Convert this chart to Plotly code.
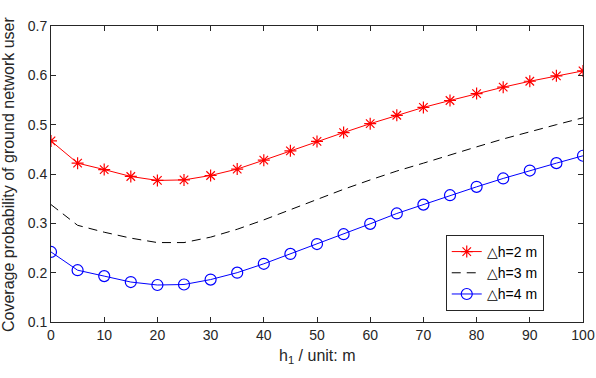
import plotly.graph_objects as go

h1 = [0, 5, 10, 15, 20, 25, 30, 35, 40, 45, 50, 55, 60, 65, 70, 75, 80, 85, 90, 95, 100]
cov_dh2 = [0.467, 0.422, 0.409, 0.395, 0.387, 0.388, 0.397, 0.410, 0.428, 0.447, 0.466,
           0.484, 0.502, 0.519, 0.535, 0.549, 0.563, 0.576, 0.588, 0.599, 0.609]
cov_dh3 = [0.338, 0.296, 0.282, 0.270, 0.261, 0.261, 0.272, 0.288, 0.307, 0.328, 0.349,
           0.369, 0.388, 0.406, 0.422, 0.439, 0.455, 0.471, 0.486, 0.500, 0.514]
cov_dh4 = [0.242, 0.205, 0.193, 0.181, 0.175, 0.176, 0.186, 0.200, 0.218, 0.238, 0.258,
           0.278, 0.299, 0.320, 0.338, 0.357, 0.374, 0.391, 0.407, 0.422, 0.437]
names = ["\u25b3h=2 m", "\u25b3h=3 m", "\u25b3h=4 m"]
x_title = "h<sub>1</sub> / unit: m"
y_title = "Coverage probability of ground network user"
x_ticks = list(range(0, 101, 10))
y_ticks = [0.1, 0.2, 0.3, 0.4, 0.5, 0.6, 0.7]

axcol = "#262626"
font = "Liberation Sans, Arial, Helvetica, sans-serif"

fig = go.Figure()
fig.add_trace(go.Scatter(
    x=h1, y=cov_dh2, name=names[0], mode="lines+markers",
    line=dict(color="#FF0000", width=1),
    marker=dict(symbol="asterisk-open", size=10, color="#FF0000",
                line=dict(color="#FF0000", width=1.2))))
fig.add_trace(go.Scatter(
    x=h1, y=cov_dh3, name=names[1], mode="lines",
    line=dict(color="#000000", width=1, dash="9px,6px")))
fig.add_trace(go.Scatter(
    x=h1, y=cov_dh4, name=names[2], mode="lines+markers",
    line=dict(color="#0000FF", width=1),
    marker=dict(symbol="circle-open", size=11, color="#0000FF",
                line=dict(color="#0000FF", width=1.2))))

axis_common = dict(
    showgrid=False, zeroline=False, showline=True, mirror="allticks",
    linecolor=axcol, linewidth=1, ticks="inside", ticklen=5,
    tickcolor=axcol, tickwidth=1, automargin=False,
    tickfont=dict(family=font, size=14, color=axcol),
)

fig.update_layout(
    width=596, height=378,
    margin=dict(l=51, r=13, t=26, b=56),
    paper_bgcolor="white", plot_bgcolor="white",
    font=dict(family=font, size=14, color=axcol),
    xaxis=dict(range=[0, 100], tickvals=x_ticks, ticktext=[str(v) for v in x_ticks],
               **axis_common),
    yaxis=dict(range=[0.1, 0.7], tickvals=y_ticks, ticktext=[f"{v:.1f}" for v in y_ticks],
               **axis_common),
    legend=dict(x=0.742, y=0.294, xanchor="left", yanchor="top",
                bgcolor="white", bordercolor=axcol, borderwidth=1,
                font=dict(family=font, size=14, color="#000000"),
                tracegroupgap=0),
    showlegend=True,
    annotations=[
        dict(text=y_title, xref="paper", yref="paper", x=0, y=0.5,
             xanchor="center", yanchor="middle", xshift=-43, textangle=-90,
             showarrow=False, font=dict(family=font, size=16, color=axcol)),
        dict(text=x_title, xref="paper", yref="paper", x=0.5, y=0,
             xanchor="center", yanchor="middle", yshift=-34,
             showarrow=False, font=dict(family=font, size=16, color=axcol)),
    ],
)

fig.write_html("out.html",
               config={"displayModeBar": False},
               post_script="document.body.style.margin='0px';document.body.style.padding='0px';")
